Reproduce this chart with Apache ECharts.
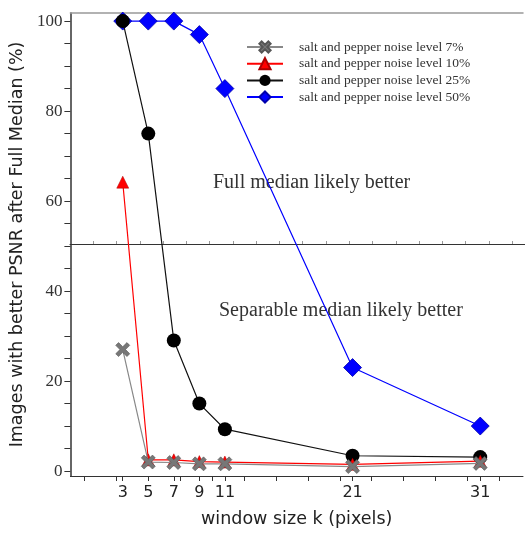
<!DOCTYPE html>
<html><head><meta charset="utf-8">
<script src="https://cdn.jsdelivr.net/npm/echarts@6/dist/echarts.min.js"></script>
<style>html,body{margin:0;padding:0;background:#fff}#c{width:525px;height:537px}</style>
</head><body><div id="c"></div>
<script>
const windowSizes = [3, 5, 7, 9, 11, 21, 31];
const noise7  = [27, 2, 1.9, 1.6, 1.6, 1.0, 1.7];
const noise10 = [64.2, 2.5, 2.5, 2.1, 2.0, 1.5, 2.2];
const noise25 = [100, 75, 29, 15, 9.3, 3.4, 3.1];
const noise50 = [100, 100, 100, 97, 85, 23, 10];
const seriesNames = ['salt and pepper noise level 7%','salt and pepper noise level 10%','salt and pepper noise level 25%','salt and pepper noise level 50%'];
const yLabels = [0, 20, 40, 60, 80, 100];
const yTicks = [0,5,10,15,20,25,30,35,40,45,50,55,60,65,70,75,80,85,90,95,100];
const xMinor = [0,2.5,5,7.5,10,12.5,15,17.5,20,22.5,25,27.5,30,32.5];
const midTicks = [1,2,3,4,5,6,7,8,9,10,11,12,13,14,15,16,17,18,19];

const pairs = a => windowSizes.map((x,i)=>[x,a[i]]);
const xPath = 'path://M2,0 L5,3 L8,0 L10,2 L7,5 L10,8 L8,10 L5,7 L2,10 L0,8 L3,5 L0,2 Z';
const serif = '"Liberation Serif","DejaVu Serif",serif';
const sans = '"DejaVu Sans",Verdana,sans-serif';

const chart = echarts.init(document.getElementById('c'));
chart.setOption({
  animation:false,
  grid:[{left:70,right:2,top:13,bottom:61},{left:70,right:0,top:13,bottom:293}],
  legend:{
    data:seriesNames, orient:'vertical', left:241, top:35, itemGap:2.7, itemWidth:36, itemHeight:14,
    textStyle:{fontFamily:serif,fontSize:13.5,color:'#333',padding:[0,0,0,11]}
  },
  xAxis:[{
    type:'value', min:-1.1, max:34.35, position:'bottom',
    name:'window size k (pixels)', nameLocation:'middle', nameGap:34,
    nameTextStyle:{fontFamily:sans,fontSize:17.5,color:'#222'},
    axisLine:{onZero:false,lineStyle:{color:'#333',width:1}},
    axisTick:{customValues:windowSizes.concat(xMinor),length:5,lineStyle:{color:'#333'}},
    axisLabel:{customValues:windowSizes,fontFamily:sans,fontSize:16,color:'#222',margin:9},
    splitLine:{show:false}
  },{
    type:'value', min:-1.1, max:34.35, position:'top',
    axisLine:{show:true,onZero:false,lineStyle:{color:'#999',width:1.5}},
    axisTick:{show:false}, axisLabel:{show:false}, splitLine:{show:false}
  },{
    type:'value', gridIndex:1, min:0, max:19.55, position:'bottom',
    axisLine:{show:true,onZero:false,lineStyle:{color:'#333',width:1}},
    axisTick:{show:true,inside:true,length:3,customValues:midTicks,lineStyle:{color:'#999'}},
    axisLabel:{show:false}, splitLine:{show:false}
  }],
  yAxis:[{
    type:'value', min:-1.1, max:101.8,
    name:'Images with better PSNR after Full Median (%)', nameLocation:'middle', nameGap:39,
    nameTextStyle:{fontFamily:sans,fontSize:17.5,color:'#222'},
    axisLine:{show:true,onZero:false,lineStyle:{color:'#333',width:1.5}},
    axisTick:{show:true,customValues:yTicks,length:6,lineStyle:{color:'#333'}},
    axisLabel:{customValues:yLabels,fontFamily:serif,fontSize:17,color:'#333',margin:8},
    splitLine:{show:false}
  },{
    type:'value', gridIndex:1, show:false, min:0, max:1
  }],
  graphic:[
    {type:'text',left:213,top:173,style:{text:'Full median likely better',font:'20px '+serif,fill:'#333'}},
    {type:'text',left:219,top:301,style:{text:'Separable median likely better',font:'20px '+serif,fill:'#333'}}
  ],
  series:[
    {name:seriesNames[3],type:'line',data:pairs(noise50),symbol:'diamond',symbolSize:18,z:2,
     lineStyle:{color:'#0000ff',width:1.2},itemStyle:{color:'#0000ff',borderColor:'#0000aa',borderWidth:0.8}},
    {name:seriesNames[2],type:'line',data:pairs(noise25),symbol:'circle',symbolSize:14,z:3,
     lineStyle:{color:'#111',width:1.2},itemStyle:{color:'#000'}},
    {name:seriesNames[1],type:'line',data:pairs(noise10),symbol:'triangle',symbolSize:12,z:4,
     lineStyle:{color:'#ff0000',width:1.2},itemStyle:{color:'#ff0000',borderColor:'#aa0000',borderWidth:0.5}},
    {name:seriesNames[0],type:'line',data:pairs(noise7),symbol:xPath,symbolSize:14,z:5,
     lineStyle:{color:'#888',width:1.2},itemStyle:{color:'#777',borderColor:'#555',borderWidth:0.6}}
  ]
});
</script></body></html>
